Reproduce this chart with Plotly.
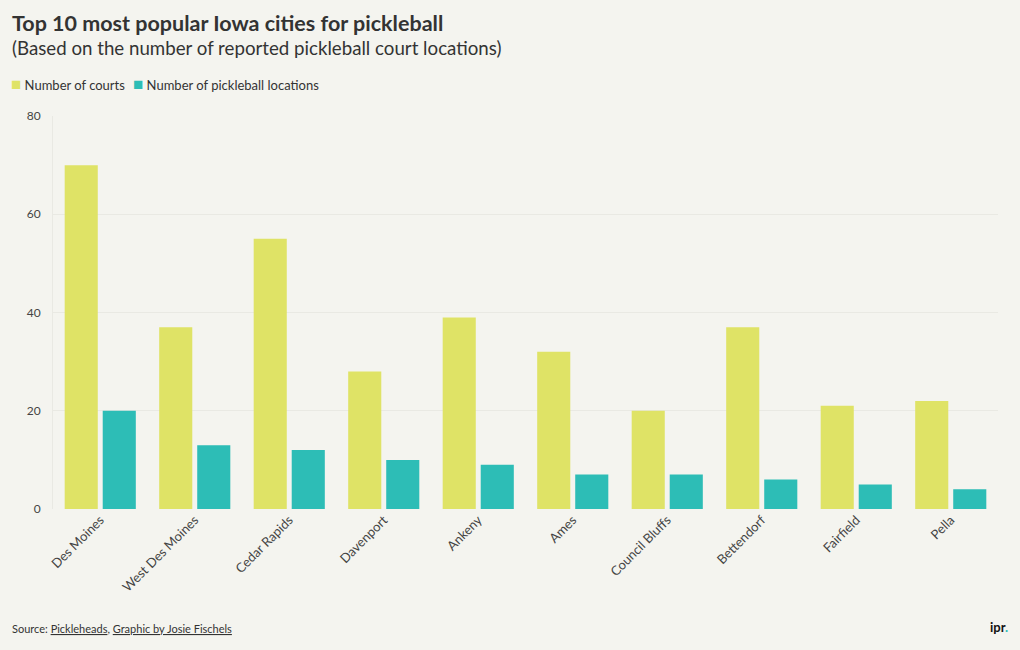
import plotly.graph_objects as go

cities = ["Des Moines", "West Des Moines", "Cedar Rapids", "Davenport", "Ankeny",
          "Ames", "Council Bluffs", "Bettendorf", "Fairfield", "Pella"]
courts = [70, 37, 55, 28, 39, 32, 20, 37, 21, 22]
locations = [20, 13, 12, 10, 9, 7, 7, 6, 5, 4]

series_names = ["Number of courts", "Number of pickleball locations"]
series_colors = ["#dfe366", "#2dbdb6"]

FONT = "Source Sans Pro, Lato, Roboto, sans-serif"
BG = "#f4f4ef"
L, R, T, B = 53, 22, 116, 141
PW = 1020 - L - R
PH = 650 - T - B

fig = go.Figure()
fig.add_trace(go.Bar(x=cities, y=courts, name=series_names[0], marker_color=series_colors[0],
                     marker_line_width=0))
fig.add_trace(go.Bar(x=cities, y=locations, name=series_names[1],
                     marker_color=series_colors[1], marker_line_width=0))

fig.update_layout(
    width=1020, height=650,
    paper_bgcolor=BG, plot_bgcolor=BG,
    font=dict(family=FONT, color="#333333", size=12),
    margin=dict(l=L, r=R, t=T, b=B),
    barmode="group", bargap=0.195, bargroupgap=0.13,
    showlegend=False,
)

fig.update_yaxes(range=[0, 80], dtick=20, gridcolor="#e9e9e3", zeroline=False,
                 showline=True, linecolor="#e9e9e3", linewidth=1,
                 tickfont=dict(size=12, color="#444444"), ticks="", ticklabelstandoff=9)
fig.update_xaxes(tickangle=-45, tickfont=dict(size=13, color="#444444"), showgrid=False,
                 showline=False)

def px_x(x):
    return (x - L) / PW

def px_y(y):
    return (650 - B - y) / PH

fig.add_annotation(text="<b>Top 10 most popular Iowa cities for pickleball</b>",
                   xref="paper", yref="paper", x=px_x(10), y=px_y(23),
                   xanchor="left", yanchor="middle", showarrow=False,
                   font=dict(size=21.5, color="#333333", family=FONT))
fig.add_annotation(text="(Based on the number of reported pickleball court locations)",
                   xref="paper", yref="paper", x=px_x(10), y=px_y(48),
                   xanchor="left", yanchor="middle", showarrow=False,
                   font=dict(size=18.7, color="#333333", family=FONT))
# legend
fig.add_annotation(text=f"<span style='color:{series_colors[0]};font-size:17px'>■</span> {series_names[0]}",
                   xref="paper", yref="paper", x=px_x(9), y=px_y(84),
                   xanchor="left", yanchor="middle", showarrow=False,
                   font=dict(size=13, color="#333333", family=FONT))
fig.add_annotation(text=f"<span style='color:{series_colors[1]};font-size:17px'>■</span> {series_names[1]}",
                   xref="paper", yref="paper", x=px_x(131), y=px_y(84),
                   xanchor="left", yanchor="middle", showarrow=False,
                   font=dict(size=13, color="#333333", family=FONT))
fig.add_annotation(text="Source: <u>Pickleheads</u>, <u>Graphic by Josie Fischels</u>",
                   xref="paper", yref="paper", x=px_x(10), y=px_y(628),
                   xanchor="left", yanchor="middle", showarrow=False,
                   font=dict(size=11, color="#333333", family=FONT))
fig.add_annotation(text="<b>ipr<span style='color:#2dbdb6'>.</span></b>",
                   xref="paper", yref="paper", x=px_x(1010), y=px_y(627),
                   xanchor="right", yanchor="middle", showarrow=False,
                   font=dict(size=13, color="#111111", family=FONT))

fig.write_html("out.html", config={"displayModeBar": False},
               post_script="document.body.style.margin='0';document.body.style.overflow='hidden';")
